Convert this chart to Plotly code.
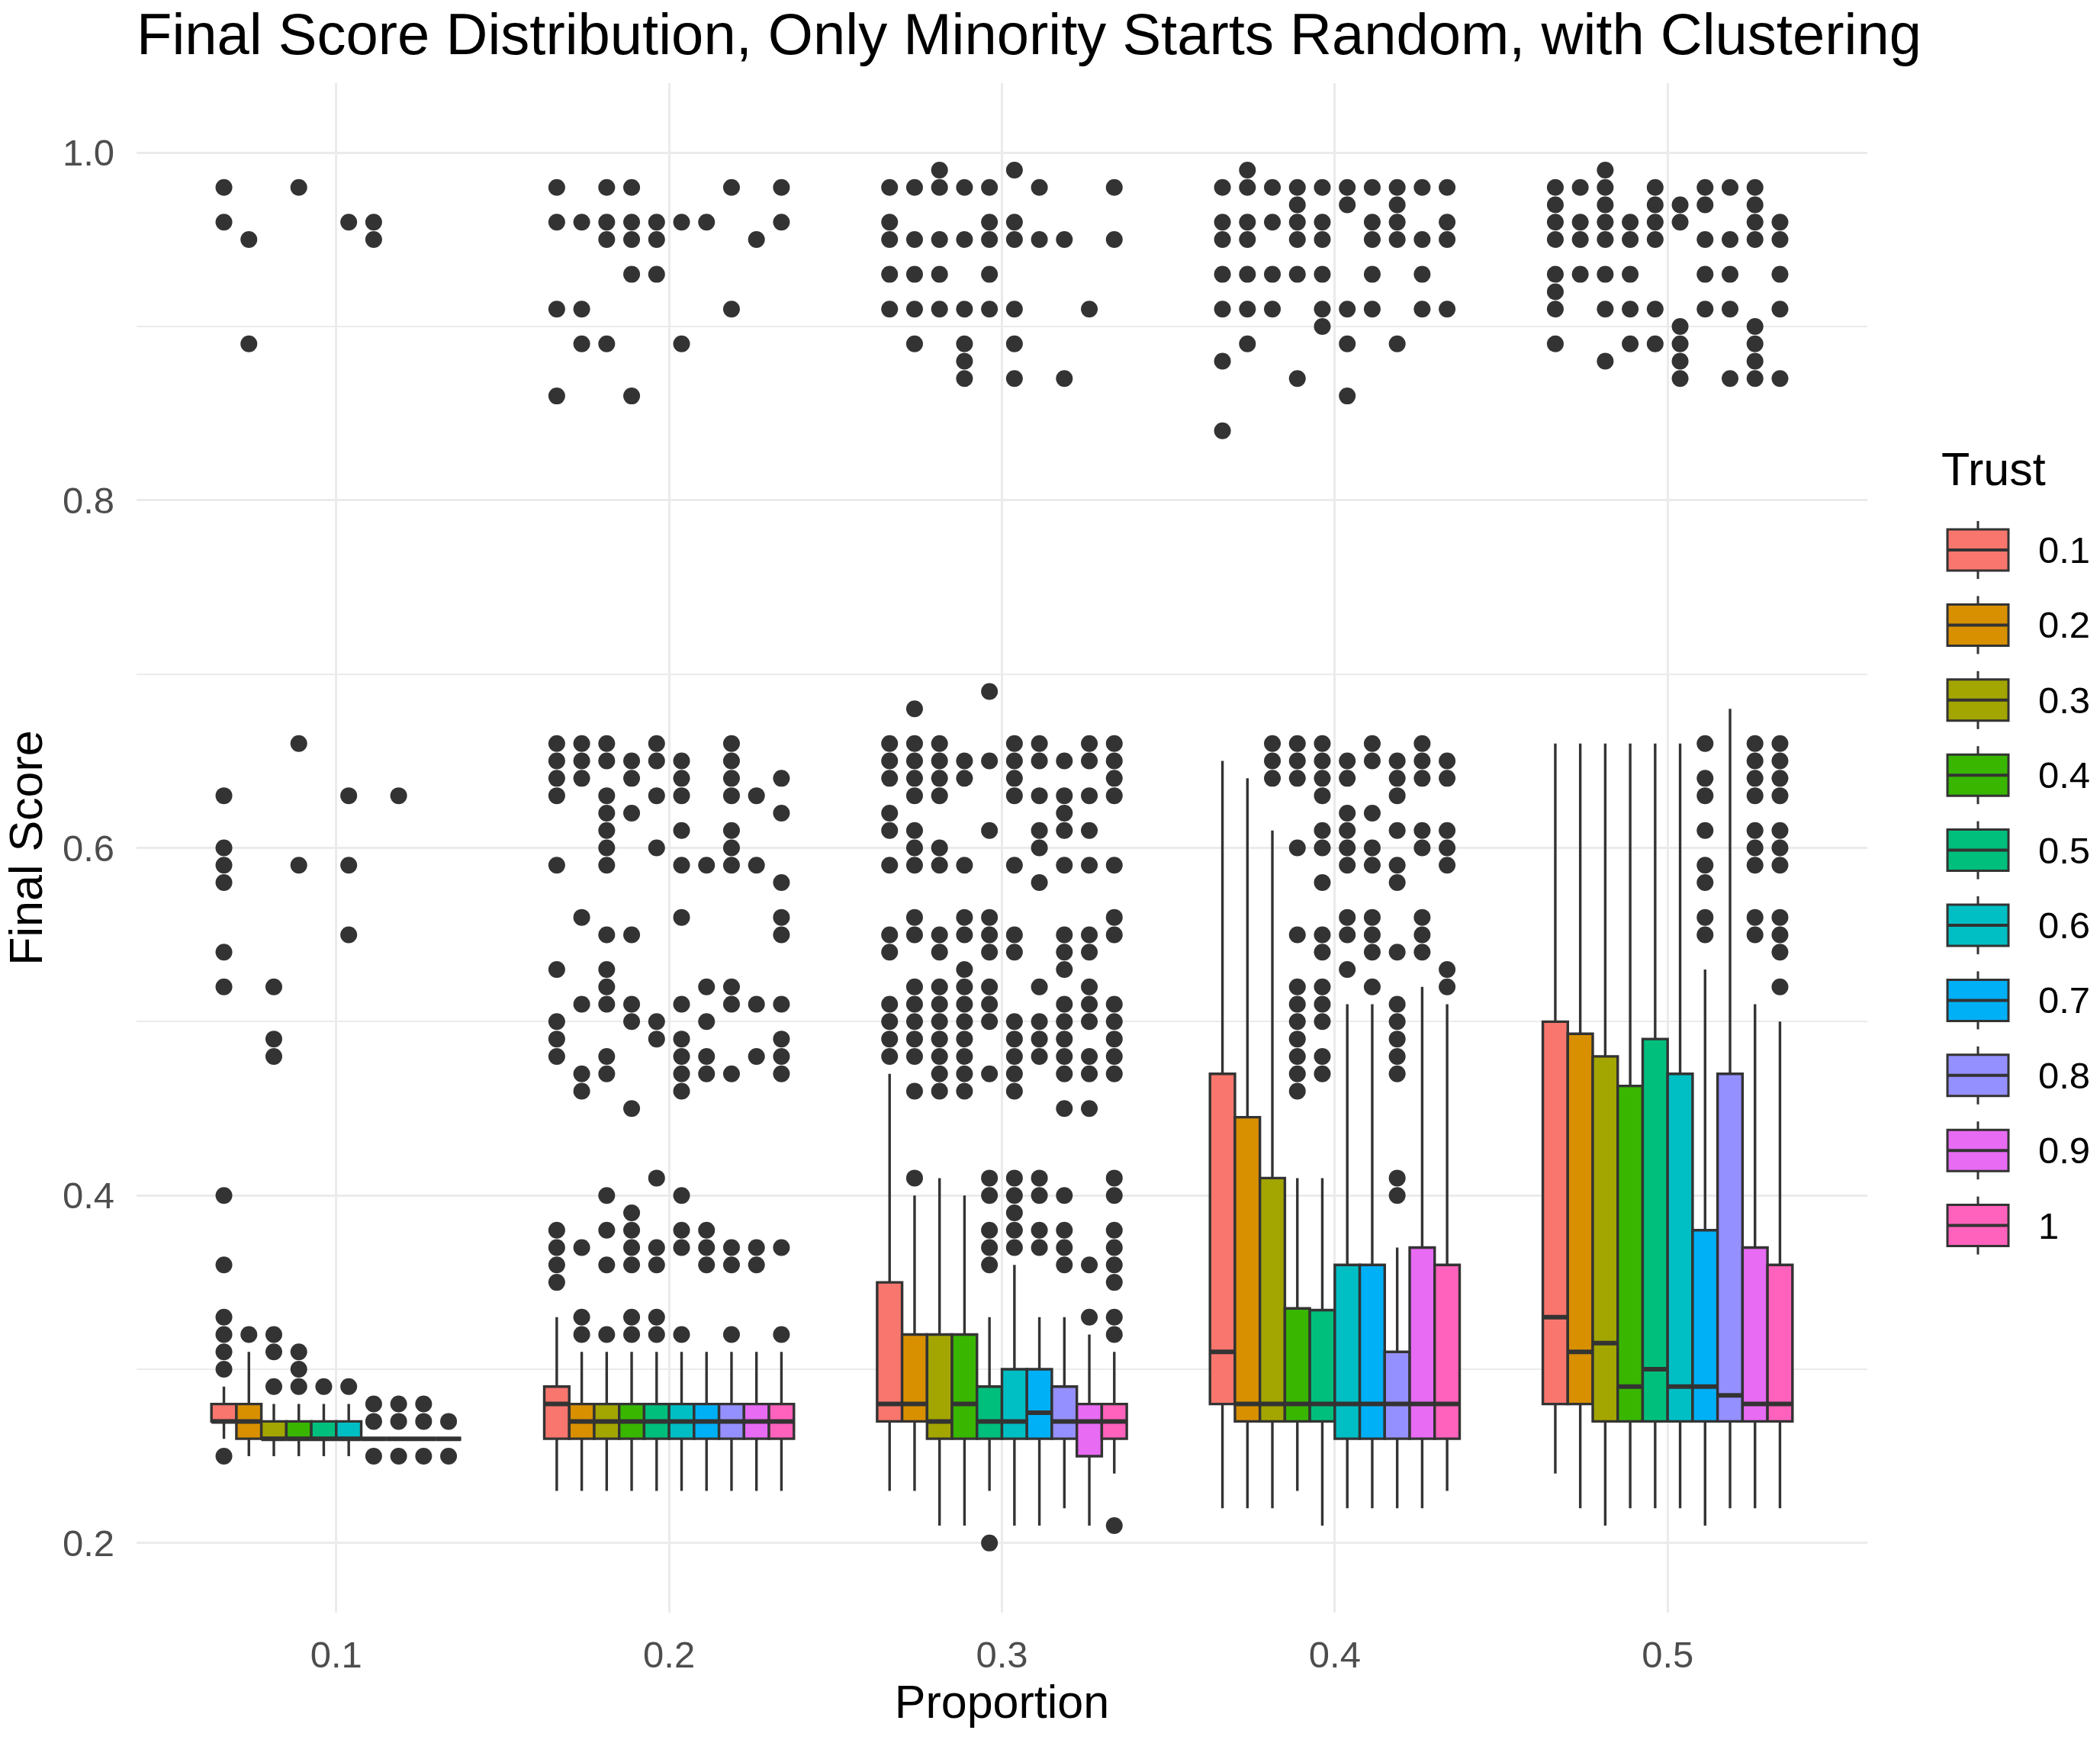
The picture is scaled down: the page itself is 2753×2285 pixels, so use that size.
import plotly.graph_objects as go

# ---------------- data ----------------
PROPORTIONS = ["0.1", "0.2", "0.3", "0.4", "0.5"]
TRUST = ["0.1", "0.2", "0.3", "0.4", "0.5", "0.6", "0.7", "0.8", "0.9", "1"]
COLORS = ["#F8766D", "#D89000", "#A3A500", "#39B600", "#00BF7D",
          "#00BFC4", "#00B0F6", "#9590FF", "#E76BF3", "#FF62BC"]

# rows: proportion, columns: trust
LOWER = [
    [0.26, 0.25, 0.25, 0.25, 0.25, 0.25, 0.26, 0.26, 0.26, 0.26],
    [0.23, 0.23, 0.23, 0.23, 0.23, 0.23, 0.23, 0.23, 0.23, 0.23],
    [0.23, 0.23, 0.21, 0.21, 0.23, 0.21, 0.21, 0.22, 0.21, 0.24],
    [0.22, 0.22, 0.22, 0.23, 0.21, 0.22, 0.22, 0.22, 0.22, 0.23],
    [0.24, 0.22, 0.21, 0.22, 0.22, 0.22, 0.21, 0.22, 0.22, 0.22],
]
Q1 = [
    [0.27, 0.26, 0.26, 0.26, 0.26, 0.26, 0.26, 0.26, 0.26, 0.26],
    [0.26, 0.26, 0.26, 0.26, 0.26, 0.26, 0.26, 0.26, 0.26, 0.26],
    [0.27, 0.27, 0.26, 0.26, 0.26, 0.26, 0.26, 0.26, 0.25, 0.26],
    [0.28, 0.27, 0.27, 0.27, 0.27, 0.26, 0.26, 0.26, 0.26, 0.26],
    [0.28, 0.28, 0.27, 0.27, 0.27, 0.27, 0.27, 0.27, 0.27, 0.27],
]
MEDIAN = [
    [0.27, 0.27, 0.26, 0.26, 0.26, 0.26, 0.26, 0.26, 0.26, 0.26],
    [0.28, 0.27, 0.27, 0.27, 0.27, 0.27, 0.27, 0.27, 0.27, 0.27],
    [0.28, 0.28, 0.27, 0.28, 0.27, 0.27, 0.275, 0.27, 0.27, 0.27],
    [0.31, 0.28, 0.28, 0.28, 0.28, 0.28, 0.28, 0.28, 0.28, 0.28],
    [0.33, 0.31, 0.315, 0.29, 0.30, 0.29, 0.29, 0.285, 0.28, 0.28],
]
Q3 = [
    [0.28, 0.28, 0.27, 0.27, 0.27, 0.27, 0.26, 0.26, 0.26, 0.26],
    [0.29, 0.28, 0.28, 0.28, 0.28, 0.28, 0.28, 0.28, 0.28, 0.28],
    [0.35, 0.32, 0.32, 0.32, 0.29, 0.30, 0.30, 0.29, 0.28, 0.28],
    [0.47, 0.445, 0.41, 0.335, 0.334, 0.36, 0.36, 0.31, 0.37, 0.36],
    [0.50, 0.493, 0.48, 0.463, 0.49, 0.47, 0.38, 0.47, 0.37, 0.36],
]
UPPER = [
    [0.29, 0.31, 0.28, 0.28, 0.28, 0.28, 0.26, 0.26, 0.26, 0.26],
    [0.33, 0.31, 0.31, 0.31, 0.31, 0.31, 0.31, 0.31, 0.31, 0.31],
    [0.47, 0.40, 0.41, 0.40, 0.33, 0.36, 0.33, 0.33, 0.32, 0.31],
    [0.65, 0.64, 0.61, 0.41, 0.41, 0.51, 0.51, 0.37, 0.52, 0.51],
    [0.66, 0.66, 0.66, 0.66, 0.66, 0.66, 0.53, 0.68, 0.51, 0.50],
]

# outliers: one list per trust level
OUTLIERS_P01 = [
    [0.98, 0.96, 0.63, 0.60, 0.59, 0.58, 0.54, 0.52, 0.40, 0.36, 0.33, 0.32, 0.31, 0.30, 0.25],
    [0.95, 0.89, 0.32],
    [0.52, 0.49, 0.48, 0.32, 0.31, 0.29],
    [0.98, 0.66, 0.59, 0.31, 0.30, 0.29],
    [0.29],
    [0.96, 0.63, 0.59, 0.55, 0.29],
    [0.96, 0.95, 0.28, 0.27, 0.25],
    [0.63, 0.28, 0.27, 0.25],
    [0.28, 0.27, 0.25],
    [0.27, 0.25],
]
OUTLIERS_P02 = [
    [0.98, 0.96, 0.91, 0.86, 0.66, 0.65, 0.64, 0.63, 0.59, 0.53, 0.50, 0.49, 0.48, 0.38, 0.37, 0.36, 0.35],
    [0.96, 0.91, 0.89, 0.66, 0.65, 0.64, 0.56, 0.51, 0.47, 0.46, 0.37, 0.33, 0.32],
    [0.98, 0.96, 0.95, 0.89, 0.66, 0.65, 0.63, 0.62, 0.61, 0.60, 0.59, 0.55, 0.53, 0.52, 0.51, 0.48, 0.47, 0.40, 0.38, 0.36, 0.32],
    [0.98, 0.96, 0.95, 0.93, 0.86, 0.65, 0.64, 0.62, 0.55, 0.51, 0.50, 0.45, 0.39, 0.38, 0.37, 0.36, 0.33, 0.32],
    [0.96, 0.95, 0.93, 0.66, 0.65, 0.63, 0.60, 0.50, 0.49, 0.41, 0.37, 0.36, 0.33, 0.32],
    [0.96, 0.89, 0.65, 0.64, 0.63, 0.61, 0.59, 0.56, 0.51, 0.49, 0.48, 0.47, 0.46, 0.40, 0.38, 0.37, 0.32],
    [0.96, 0.59, 0.52, 0.50, 0.48, 0.47, 0.38, 0.37, 0.36],
    [0.98, 0.91, 0.66, 0.65, 0.64, 0.63, 0.61, 0.60, 0.59, 0.52, 0.51, 0.47, 0.37, 0.36, 0.32],
    [0.95, 0.63, 0.59, 0.51, 0.48, 0.37, 0.36],
    [0.98, 0.96, 0.64, 0.62, 0.58, 0.56, 0.55, 0.51, 0.49, 0.48, 0.47, 0.37, 0.32],
]
OUTLIERS_P03 = [
    [0.98, 0.96, 0.95, 0.93, 0.91, 0.66, 0.65, 0.64, 0.62, 0.61, 0.59, 0.55, 0.54, 0.51, 0.50, 0.49, 0.48],
    [0.98, 0.95, 0.93, 0.91, 0.89, 0.68, 0.66, 0.65, 0.64, 0.63, 0.61, 0.60, 0.59, 0.56, 0.55, 0.52, 0.51, 0.50, 0.49, 0.48, 0.46, 0.41],
    [0.99, 0.98, 0.95, 0.93, 0.91, 0.66, 0.65, 0.64, 0.63, 0.60, 0.59, 0.55, 0.54, 0.52, 0.51, 0.50, 0.49, 0.48, 0.47, 0.46],
    [0.98, 0.95, 0.91, 0.89, 0.88, 0.87, 0.65, 0.64, 0.59, 0.56, 0.55, 0.53, 0.52, 0.51, 0.50, 0.49, 0.48, 0.47, 0.46],
    [0.98, 0.96, 0.95, 0.93, 0.91, 0.69, 0.65, 0.61, 0.56, 0.55, 0.54, 0.52, 0.51, 0.50, 0.47, 0.41, 0.40, 0.38, 0.37, 0.36, 0.20],
    [0.99, 0.96, 0.95, 0.91, 0.89, 0.87, 0.66, 0.65, 0.64, 0.63, 0.59, 0.55, 0.54, 0.50, 0.49, 0.48, 0.47, 0.46, 0.41, 0.40, 0.39, 0.38, 0.37],
    [0.98, 0.95, 0.66, 0.65, 0.63, 0.61, 0.60, 0.58, 0.52, 0.50, 0.49, 0.48, 0.41, 0.40, 0.38, 0.37],
    [0.95, 0.87, 0.65, 0.63, 0.62, 0.61, 0.59, 0.55, 0.54, 0.53, 0.51, 0.50, 0.49, 0.48, 0.47, 0.45, 0.40, 0.38, 0.37, 0.36],
    [0.91, 0.66, 0.65, 0.63, 0.61, 0.59, 0.55, 0.54, 0.52, 0.51, 0.50, 0.48, 0.47, 0.45, 0.36, 0.33],
    [0.98, 0.95, 0.66, 0.65, 0.64, 0.63, 0.59, 0.56, 0.55, 0.51, 0.50, 0.49, 0.48, 0.47, 0.41, 0.40, 0.38, 0.37, 0.36, 0.35, 0.33, 0.32, 0.21],
]
OUTLIERS_P04 = [
    [0.98, 0.96, 0.95, 0.93, 0.91, 0.88, 0.84],
    [0.99, 0.98, 0.96, 0.95, 0.93, 0.91, 0.89],
    [0.98, 0.96, 0.93, 0.91, 0.66, 0.65, 0.64],
    [0.98, 0.97, 0.96, 0.95, 0.93, 0.87, 0.66, 0.65, 0.64, 0.60, 0.55, 0.52, 0.51, 0.50, 0.49, 0.48, 0.47, 0.46],
    [0.98, 0.96, 0.95, 0.93, 0.91, 0.90, 0.66, 0.65, 0.64, 0.63, 0.61, 0.60, 0.58, 0.55, 0.54, 0.52, 0.51, 0.50, 0.48, 0.47],
    [0.98, 0.97, 0.91, 0.89, 0.86, 0.65, 0.64, 0.62, 0.61, 0.60, 0.59, 0.56, 0.55, 0.53],
    [0.98, 0.96, 0.95, 0.93, 0.91, 0.66, 0.65, 0.62, 0.60, 0.59, 0.56, 0.55, 0.54, 0.52],
    [0.98, 0.97, 0.96, 0.95, 0.89, 0.65, 0.64, 0.63, 0.61, 0.59, 0.58, 0.54, 0.51, 0.50, 0.49, 0.48, 0.47, 0.41, 0.40],
    [0.98, 0.95, 0.93, 0.91, 0.66, 0.65, 0.64, 0.61, 0.60, 0.56, 0.55, 0.54],
    [0.98, 0.96, 0.95, 0.91, 0.65, 0.64, 0.61, 0.60, 0.59, 0.53, 0.52],
]
OUTLIERS_P05 = [
    [0.98, 0.97, 0.96, 0.95, 0.93, 0.92, 0.91, 0.89],
    [0.98, 0.96, 0.95, 0.93],
    [0.99, 0.98, 0.97, 0.96, 0.95, 0.93, 0.91, 0.88],
    [0.96, 0.95, 0.93, 0.91, 0.89],
    [0.98, 0.97, 0.96, 0.95, 0.91, 0.89],
    [0.97, 0.96, 0.90, 0.89, 0.88, 0.87],
    [0.98, 0.97, 0.95, 0.93, 0.91, 0.66, 0.64, 0.63, 0.61, 0.59, 0.58, 0.56, 0.55],
    [0.98, 0.95, 0.93, 0.91, 0.87],
    [0.98, 0.97, 0.96, 0.95, 0.90, 0.89, 0.88, 0.87, 0.66, 0.65, 0.64, 0.63, 0.61, 0.60, 0.59, 0.56, 0.55],
    [0.96, 0.95, 0.93, 0.91, 0.87, 0.66, 0.65, 0.64, 0.63, 0.61, 0.60, 0.59, 0.56, 0.55, 0.54, 0.52],
]
OUTLIERS = [OUTLIERS_P01, OUTLIERS_P02, OUTLIERS_P03, OUTLIERS_P04, OUTLIERS_P05]

Y_TICKS = [0.2, 0.4, 0.6, 0.8, 1.0]
Y_MINOR = [0.3, 0.5, 0.7, 0.9]

# ---------------- layout constants ----------------
W, H = 2753, 2285
ML, MR, MT, MB = 179, 305, 109, 171
PW, PH = W - ML - MR, H - MT - MB
FONT = "Liberation Sans, Arial, sans-serif"
INK = "#333333"
GRID = "#EBEBEB"

n = len(TRUST)
NP = len(PROPORTIONS)
DODGE = 0.75
BW = DODGE / n


def pos(p_idx, t_idx):
    return p_idx + (t_idx - (n - 1) / 2) * BW


def px_x(px):
    return (px - ML) / PW


def px_y(py):
    return (H - MB - py) / PH


fig = go.Figure()

for t, (label, col) in enumerate(zip(TRUST, COLORS)):
    xs = [pos(p, t) for p in range(NP)]
    fig.add_trace(go.Box(
        x=xs,
        q1=[Q1[p][t] for p in range(NP)],
        median=[MEDIAN[p][t] for p in range(NP)],
        q3=[Q3[p][t] for p in range(NP)],
        lowerfence=[LOWER[p][t] for p in range(NP)],
        upperfence=[UPPER[p][t] for p in range(NP)],
        width=BW,
        fillcolor=col,
        line=dict(color=INK, width=3.4),
        whiskerwidth=0,
        boxpoints=False,
        name=label,
        showlegend=False,
        hoverinfo="skip",
    ))
    # thicker median bar (ggplot's fatten)
    mx, my = [], []
    for p in range(NP):
        mx += [pos(p, t) - BW / 2, pos(p, t) + BW / 2, None]
        my += [MEDIAN[p][t], MEDIAN[p][t], None]
    fig.add_trace(go.Scatter(
        x=mx, y=my, mode="lines", line=dict(color=INK, width=6),
        showlegend=False, hoverinfo="skip", name=label,
    ))
    ox, oy = [], []
    for p in range(NP):
        for v in OUTLIERS[p][t]:
            ox.append(pos(p, t))
            oy.append(v)
    fig.add_trace(go.Scatter(
        x=ox, y=oy, mode="markers",
        marker=dict(color=INK, size=22, line=dict(width=0)),
        showlegend=False, name=label, hoverinfo="skip",
    ))

# ---------------- custom ggplot-style legend ----------------
shapes = []
annotations = []
KEY_X0, KEY_X1 = 2553, 2633
KEY_Y0 = 721
KEY_PITCH = 98.4
KEY_HALF = 27
WHISK = 11
kx_mid = (KEY_X0 + KEY_X1) / 2
for i, (label, col) in enumerate(zip(TRUST, COLORS)):
    yc = KEY_Y0 + i * KEY_PITCH
    shapes.append(dict(type="line", xref="paper", yref="paper",
                       x0=px_x(kx_mid), x1=px_x(kx_mid),
                       y0=px_y(yc - KEY_HALF - WHISK), y1=px_y(yc - KEY_HALF),
                       line=dict(color=INK, width=3)))
    shapes.append(dict(type="line", xref="paper", yref="paper",
                       x0=px_x(kx_mid), x1=px_x(kx_mid),
                       y0=px_y(yc + KEY_HALF), y1=px_y(yc + KEY_HALF + WHISK),
                       line=dict(color=INK, width=3)))
    shapes.append(dict(type="rect", xref="paper", yref="paper",
                       x0=px_x(KEY_X0), x1=px_x(KEY_X1),
                       y0=px_y(yc + KEY_HALF), y1=px_y(yc - KEY_HALF),
                       fillcolor=col, line=dict(color=INK, width=3)))
    shapes.append(dict(type="line", xref="paper", yref="paper",
                       x0=px_x(KEY_X0), x1=px_x(KEY_X1),
                       y0=px_y(yc), y1=px_y(yc),
                       line=dict(color=INK, width=4)))
    annotations.append(dict(text=label, xref="paper", yref="paper",
                            x=px_x(2670), y=px_y(yc), xanchor="left", yanchor="middle",
                            showarrow=False, font=dict(family=FONT, size=49, color="#000000")))
annotations.append(dict(text="Trust", xref="paper", yref="paper",
                        x=px_x(2543), y=px_y(615), xanchor="left", yanchor="middle",
                        showarrow=False, font=dict(family=FONT, size=61, color="#000000")))

fig.update_layout(
    width=W, height=H,
    margin=dict(l=ML, r=MR, t=MT, b=MB, pad=0),
    paper_bgcolor="white", plot_bgcolor="white",
    font=dict(family=FONT, color="#000000"),
    title=dict(text="Final Score Distribution, Only Minority Starts Random, with Clustering",
               x=0, xref="paper", xanchor="left",
               y=1 - 44 / H, yref="container", yanchor="middle",
               font=dict(family=FONT, size=76, color="#000000")),
    xaxis=dict(range=[-0.6, NP - 1 + 0.6],
               tickvals=list(range(NP)), ticktext=PROPORTIONS,
               showgrid=True, gridcolor=GRID, gridwidth=3, zeroline=False,
               showline=False, ticks="", ticklabelstandoff=22,
               tickfont=dict(family=FONT, size=49, color="#4D4D4D"),
               title=dict(text="Proportion", standoff=14,
                          font=dict(family=FONT, size=61, color="#000000"))),
    yaxis=dict(range=[0.16, 1.04], tickvals=Y_TICKS,
               ticktext=[f"{v:.1f}" for v in Y_TICKS],
               showgrid=True, gridcolor=GRID, gridwidth=3, zeroline=False,
               showline=False, ticks="", ticklabelstandoff=28,
               tickfont=dict(family=FONT, size=49, color="#4D4D4D"),
               minor=dict(tickvals=Y_MINOR, showgrid=True, gridcolor=GRID, gridwidth=1.5),
               title=dict(text="Final Score", standoff=20,
                          font=dict(family=FONT, size=61, color="#000000"))),
    shapes=shapes,
    annotations=annotations,
)

fig.write_html("out.html")
